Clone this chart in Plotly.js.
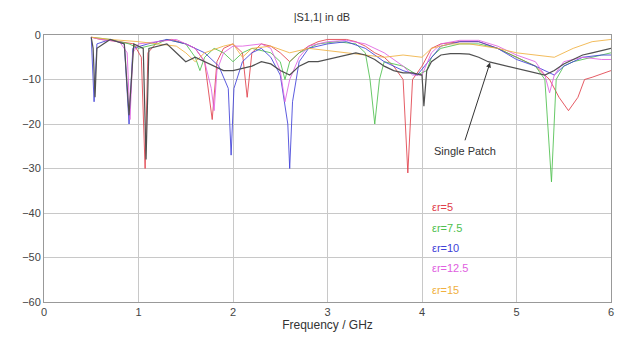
<!DOCTYPE html>
<html><head><meta charset="utf-8">
<script src="https://cdn.plot.ly/plotly-3.0.1.min.js"></script>
<style>html,body{margin:0;padding:0;background:#fff}#chart{width:619px;height:340px}</style>
</head><body><div id="chart"></div>
<script>
// Single patch
const fSingle = [0.5,0.52,0.54,0.56,0.7,0.85,0.9,0.95,1.05,1.08,1.11,1.3,1.4,1.5,1.6,1.7,1.8,1.9,2.0,2.1,2.2,2.3,2.4,2.5,2.6,2.7,2.8,2.9,3.0,3.1,3.2,3.3,3.4,3.5,3.6,3.7,3.8,3.9,4.0,4.02,4.05,4.1,4.2,4.3,4.4,4.5,4.6,4.7,4.8,4.9,5.0,5.1,5.2,5.3,5.4,5.5,5.6,5.7,5.8,5.9,6.0];
const sSingle = [-0.5,-3,-14,-3,-1,-2,-18,-2,-3,-28,-3,-2,-4,-6,-5,-6,-7,-8,-8,-7.5,-7,-6,-6.5,-8,-9,-7,-6,-6,-5.5,-5,-4.5,-4,-4.5,-5.5,-7,-8,-8.5,-8.5,-9,-16,-8,-6,-4.5,-4.2,-4.2,-4.3,-5,-6,-6.5,-7,-7.5,-8,-8.5,-9,-8,-6.5,-5.5,-4.5,-4,-3.5,-3];
// er = 5
const fE5 = [0.5,0.6,0.8,0.95,1.03,1.07,1.1,1.2,1.35,1.5,1.6,1.7,1.78,1.83,1.9,2.0,2.1,2.15,2.2,2.3,2.4,2.5,2.6,2.7,2.8,2.9,3.0,3.1,3.2,3.3,3.4,3.5,3.6,3.7,3.8,3.85,3.9,4.0,4.1,4.2,4.4,4.6,4.8,5.0,5.1,5.2,5.3,5.35,5.45,5.55,5.65,5.72,5.8,6.0];
const sE5 = [-0.5,-1,-1.5,-2,-5,-30,-4,-1.5,-1,-2,-3,-6,-19,-6,-3,-2,-4,-14,-4,-2,-2.5,-4,-6,-4,-2.5,-1.5,-1,-1,-1,-1.5,-2.5,-4,-5,-7,-10,-31,-10,-7,-3,-2,-1.5,-1.5,-3,-5,-6,-7,-9,-10,-14,-17,-14,-10,-9.5,-8];
// er = 7.5
const fE75 = [0.5,0.7,0.9,1.0,1.2,1.3,1.5,1.6,1.65,1.7,1.8,1.9,2.0,2.1,2.2,2.4,2.5,2.55,2.6,2.7,2.9,3.1,3.3,3.4,3.45,3.5,3.55,3.6,3.8,3.95,4.05,4.1,4.2,4.4,4.6,4.8,5.0,5.2,5.3,5.37,5.42,5.5,5.6,5.8,6.0];
const sE75 = [-0.5,-1,-2,-3,-2,-1,-2,-5,-8,-5,-3,-4,-6,-4,-3,-4,-6,-10,-6,-4,-2,-1.5,-2,-4,-10,-20,-10,-6,-7,-9,-8,-5,-3,-2,-2,-3,-5,-7,-10,-33,-10,-7,-6,-5,-4];
// er = 10
const fE10 = [0.5,0.53,0.56,0.7,0.85,0.9,0.94,1.1,1.3,1.5,1.7,1.85,1.95,1.98,2.01,2.1,2.2,2.3,2.4,2.5,2.58,2.6,2.63,2.7,2.8,3.0,3.2,3.4,3.6,3.8,3.95,4.1,4.2,4.4,4.6,4.8,5.0,5.2,5.3,5.4,5.5,5.7,5.9,6.0];
const sE10 = [-0.5,-15,-2,-1,-2,-20,-3,-2,-1,-2,-4,-7,-12,-27,-12,-6,-4,-3,-5,-9,-20,-30,-15,-6,-3,-2,-1.5,-3,-6,-8,-9,-5,-2.5,-1.5,-1.5,-3,-5.5,-7,-8,-9,-7,-5,-4.5,-4.5];
// er = 12.5
const fE125 = [0.5,0.6,0.8,0.88,0.91,0.94,1.0,1.2,1.4,1.6,1.7,1.77,1.8,1.83,1.9,2.0,2.1,2.3,2.4,2.5,2.55,2.6,2.7,2.8,3.0,3.2,3.4,3.6,3.8,3.9,4.0,4.1,4.2,4.4,4.6,4.8,5.0,5.2,5.3,5.35,5.4,5.5,5.7,5.9,6.0];
const sE125 = [-0.5,-1,-1.5,-4,-19,-4,-2,-1.5,-1,-3,-6,-12,-17,-8,-4,-2.5,-2.5,-2,-3,-8,-15,-10,-5,-2.5,-1.5,-1.2,-2,-4,-7,-9,-9,-4,-2,-1.2,-1.2,-2.5,-4.5,-6,-9,-13,-9,-6,-5,-5.5,-5.5];
// er = 15
const fE15 = [0.5,0.7,1.0,1.2,1.4,1.5,1.6,1.7,1.9,2.0,2.1,2.2,2.4,2.6,2.8,3.0,3.2,3.4,3.6,3.8,4.0,4.1,4.3,4.5,4.8,5.0,5.2,5.4,5.6,5.8,6.0];
const sE15 = [-0.5,-1,-1.5,-2,-2.5,-4,-6,-4,-2.5,-2,-5,-3,-2.5,-4,-3,-3.5,-4,-4.5,-5,-4.5,-5,-3,-2,-2,-3,-4,-4.5,-5,-3,-1.5,-1];

const legendLabels = ["εr=5","εr=7.5","εr=10","εr=12.5","εr=15"];
const legendY = [-38.7,-43.3,-47.8,-52.4,-57.2];
const colors = ["#e0404a","#4ec04e","#4040d8","#e060e0","#f0b040"];

const series = [[fE5,sE5],[fE75,sE75],[fE10,sE10],[fE125,sE125],[fE15,sE15]];
const traces = series.map((s,i)=>({x:s[0],y:s[1],mode:"lines",line:{color:colors[i],width:1},name:legendLabels[i],opacity:0.85}));
traces.push({x:fSingle,y:sSingle,mode:"lines",line:{color:"#505050",width:1.2},name:"Single Patch"});

const annotations = legendLabels.map((t,i)=>({x:4.08,y:legendY[i],xanchor:"left",yanchor:"middle",text:t,showarrow:false,font:{family:"Arial, Liberation Sans",size:11,color:colors[i]}}));
annotations.push({x:4.72,y:-6.2,ax:4.45,ay:-24,axref:"x",ayref:"y",text:"",showarrow:true,arrowhead:2,arrowsize:1,arrowwidth:1,arrowcolor:"#333"});
annotations.push({x:4.45,y:-26,text:"Single Patch",showarrow:false,font:{family:"Arial, Liberation Sans",size:11,color:"#333"}});

const layout = {
  width:619,height:340,
  margin:{l:44,r:8,t:35,b:38},
  paper_bgcolor:"#fff",plot_bgcolor:"#fff",
  showlegend:false,
  title:{text:"|S1,1| in dB",x:0.52,xanchor:"center",y:0.95,yanchor:"middle",font:{family:"Arial, Liberation Sans",size:11,color:"#333"}},
  xaxis:{range:[0,6],dtick:1,tick0:0,showgrid:true,gridcolor:"#c8c8c8",zeroline:false,showline:true,linecolor:"#999",mirror:true,ticks:"",
    tickfont:{family:"Arial, Liberation Sans",size:11,color:"#444"},
    title:{text:"Frequency / GHz",standoff:2,font:{family:"Arial, Liberation Sans",size:12,color:"#333"}}},
  yaxis:{range:[-60,0],dtick:10,showgrid:true,gridcolor:"#c8c8c8",zeroline:false,showline:true,linecolor:"#999",mirror:true,ticks:"",
    tickfont:{family:"Arial, Liberation Sans",size:11,color:"#444"}},
  annotations:annotations
};
Plotly.newPlot("chart",traces,layout,{displayModeBar:false,staticPlot:true});
</script></body></html>
